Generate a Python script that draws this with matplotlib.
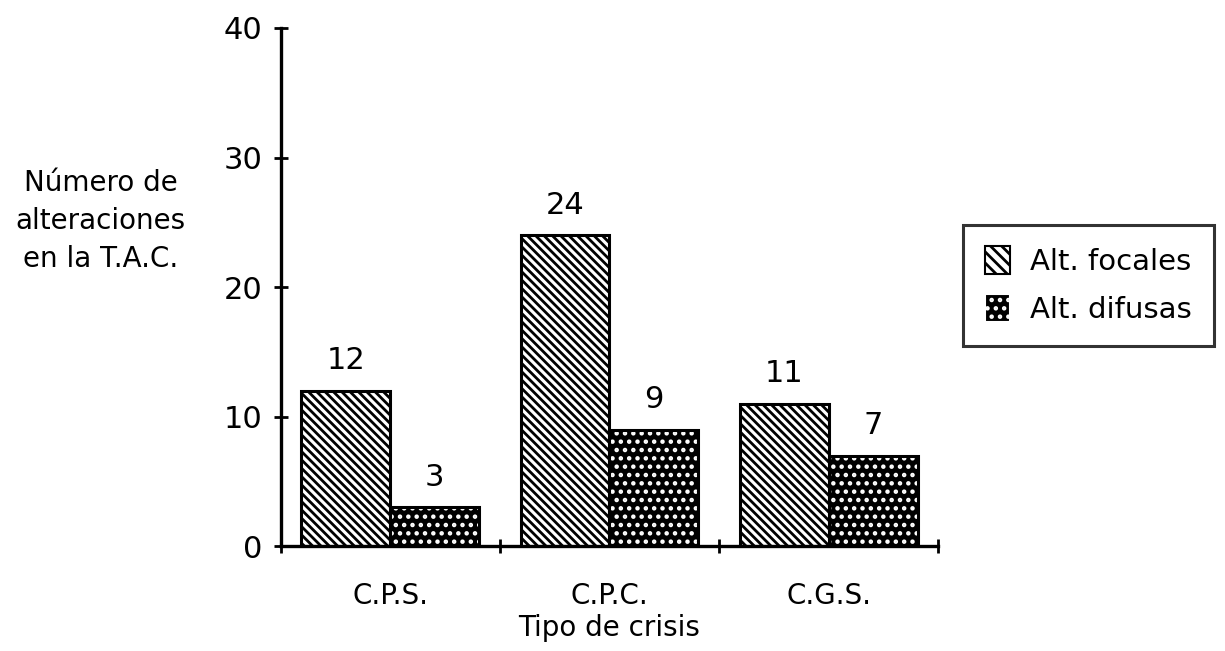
import matplotlib
matplotlib.use("Agg")
import matplotlib.pyplot as plt
from matplotlib.patches import Patch
import numpy as np

plt.rcParams['font.family'] = ['DejaVu Sans']
plt.rcParams['hatch.linewidth'] = 2.0

categories = ["C.P.S.", "C.P.C.", "C.G.S."]
focales = [12, 24, 11]
difusas = [3, 9, 7]
series_names = ["Alt. focales", "Alt. difusas"]
y_ticks = [0, 10, 20, 30, 40]

fig = plt.figure(figsize=(12.25, 6.51), dpi=100)
ax = fig.add_axes([0.229, 0.161, 0.537, 0.796])

x = np.arange(len(categories))
w = 0.405

# focal alterations: black diagonal lines on white
ax.bar(x - w / 2, focales, w, facecolor="white", edgecolor="black",
       hatch="\\\\\\\\", linewidth=2.2, zorder=2)
# diffuse alterations: white dots on black, then a black outline
ax.bar(x + w / 2, difusas, w, facecolor="black", edgecolor="white",
       hatch="..", linewidth=0, zorder=2)
ax.bar(x + w / 2, difusas, w, fill=False, edgecolor="black",
       linewidth=2.2, zorder=3)

for xi, v in zip(x - w / 2, focales):
    ax.text(xi, v + 1.2, str(v), ha="center", va="bottom", fontsize=22)
for xi, v in zip(x + w / 2, difusas):
    ax.text(xi, v + 1.2, str(v), ha="center", va="bottom", fontsize=22)

ax.set_xlim(-0.5, 2.5)
ax.set_ylim(0, 40)
ax.set_yticks(y_ticks)
ax.set_yticklabels([str(t) for t in y_ticks], fontsize=22)

ax.set_xticks([-0.5, 0.5, 1.5, 2.5])
ax.set_xticklabels([])
ax.set_xticks(x, minor=True)
ax.set_xticklabels(categories, minor=True, fontsize=20)
ax.tick_params(axis="x", which="minor", length=0, pad=26)
ax.tick_params(axis="x", which="major", direction="inout", length=10, width=2)
ax.tick_params(axis="y", direction="inout", length=10, width=2, pad=8)

for s in ["top", "right"]:
    ax.spines[s].set_visible(False)
for s in ["left", "bottom"]:
    ax.spines[s].set_linewidth(2.4)

ax.set_xlabel("Tipo de crisis", fontsize=20, labelpad=3)
fig.text(0.082, 0.66, "Número de\nalteraciones\nen la T.A.C.", ha="center",
         va="center", fontsize=20, linespacing=1.45)

h1 = Patch(facecolor="white", edgecolor="black", hatch="\\\\\\", linewidth=1.5)
h2 = Patch(facecolor="black", edgecolor="white", hatch="..", linewidth=1.5)
leg = fig.legend([h1, h2], series_names, loc="upper left",
                 bbox_to_anchor=(0.786, 0.655), fontsize=21, frameon=True,
                 fancybox=False, edgecolor="black", handlelength=0.85,
                 handleheight=1.1, handletextpad=0.7, borderpad=0.75,
                 labelspacing=0.6, borderaxespad=0)
leg.get_frame().set_linewidth(2.2)

fig.savefig("out.png", dpi=100, facecolor="white")
